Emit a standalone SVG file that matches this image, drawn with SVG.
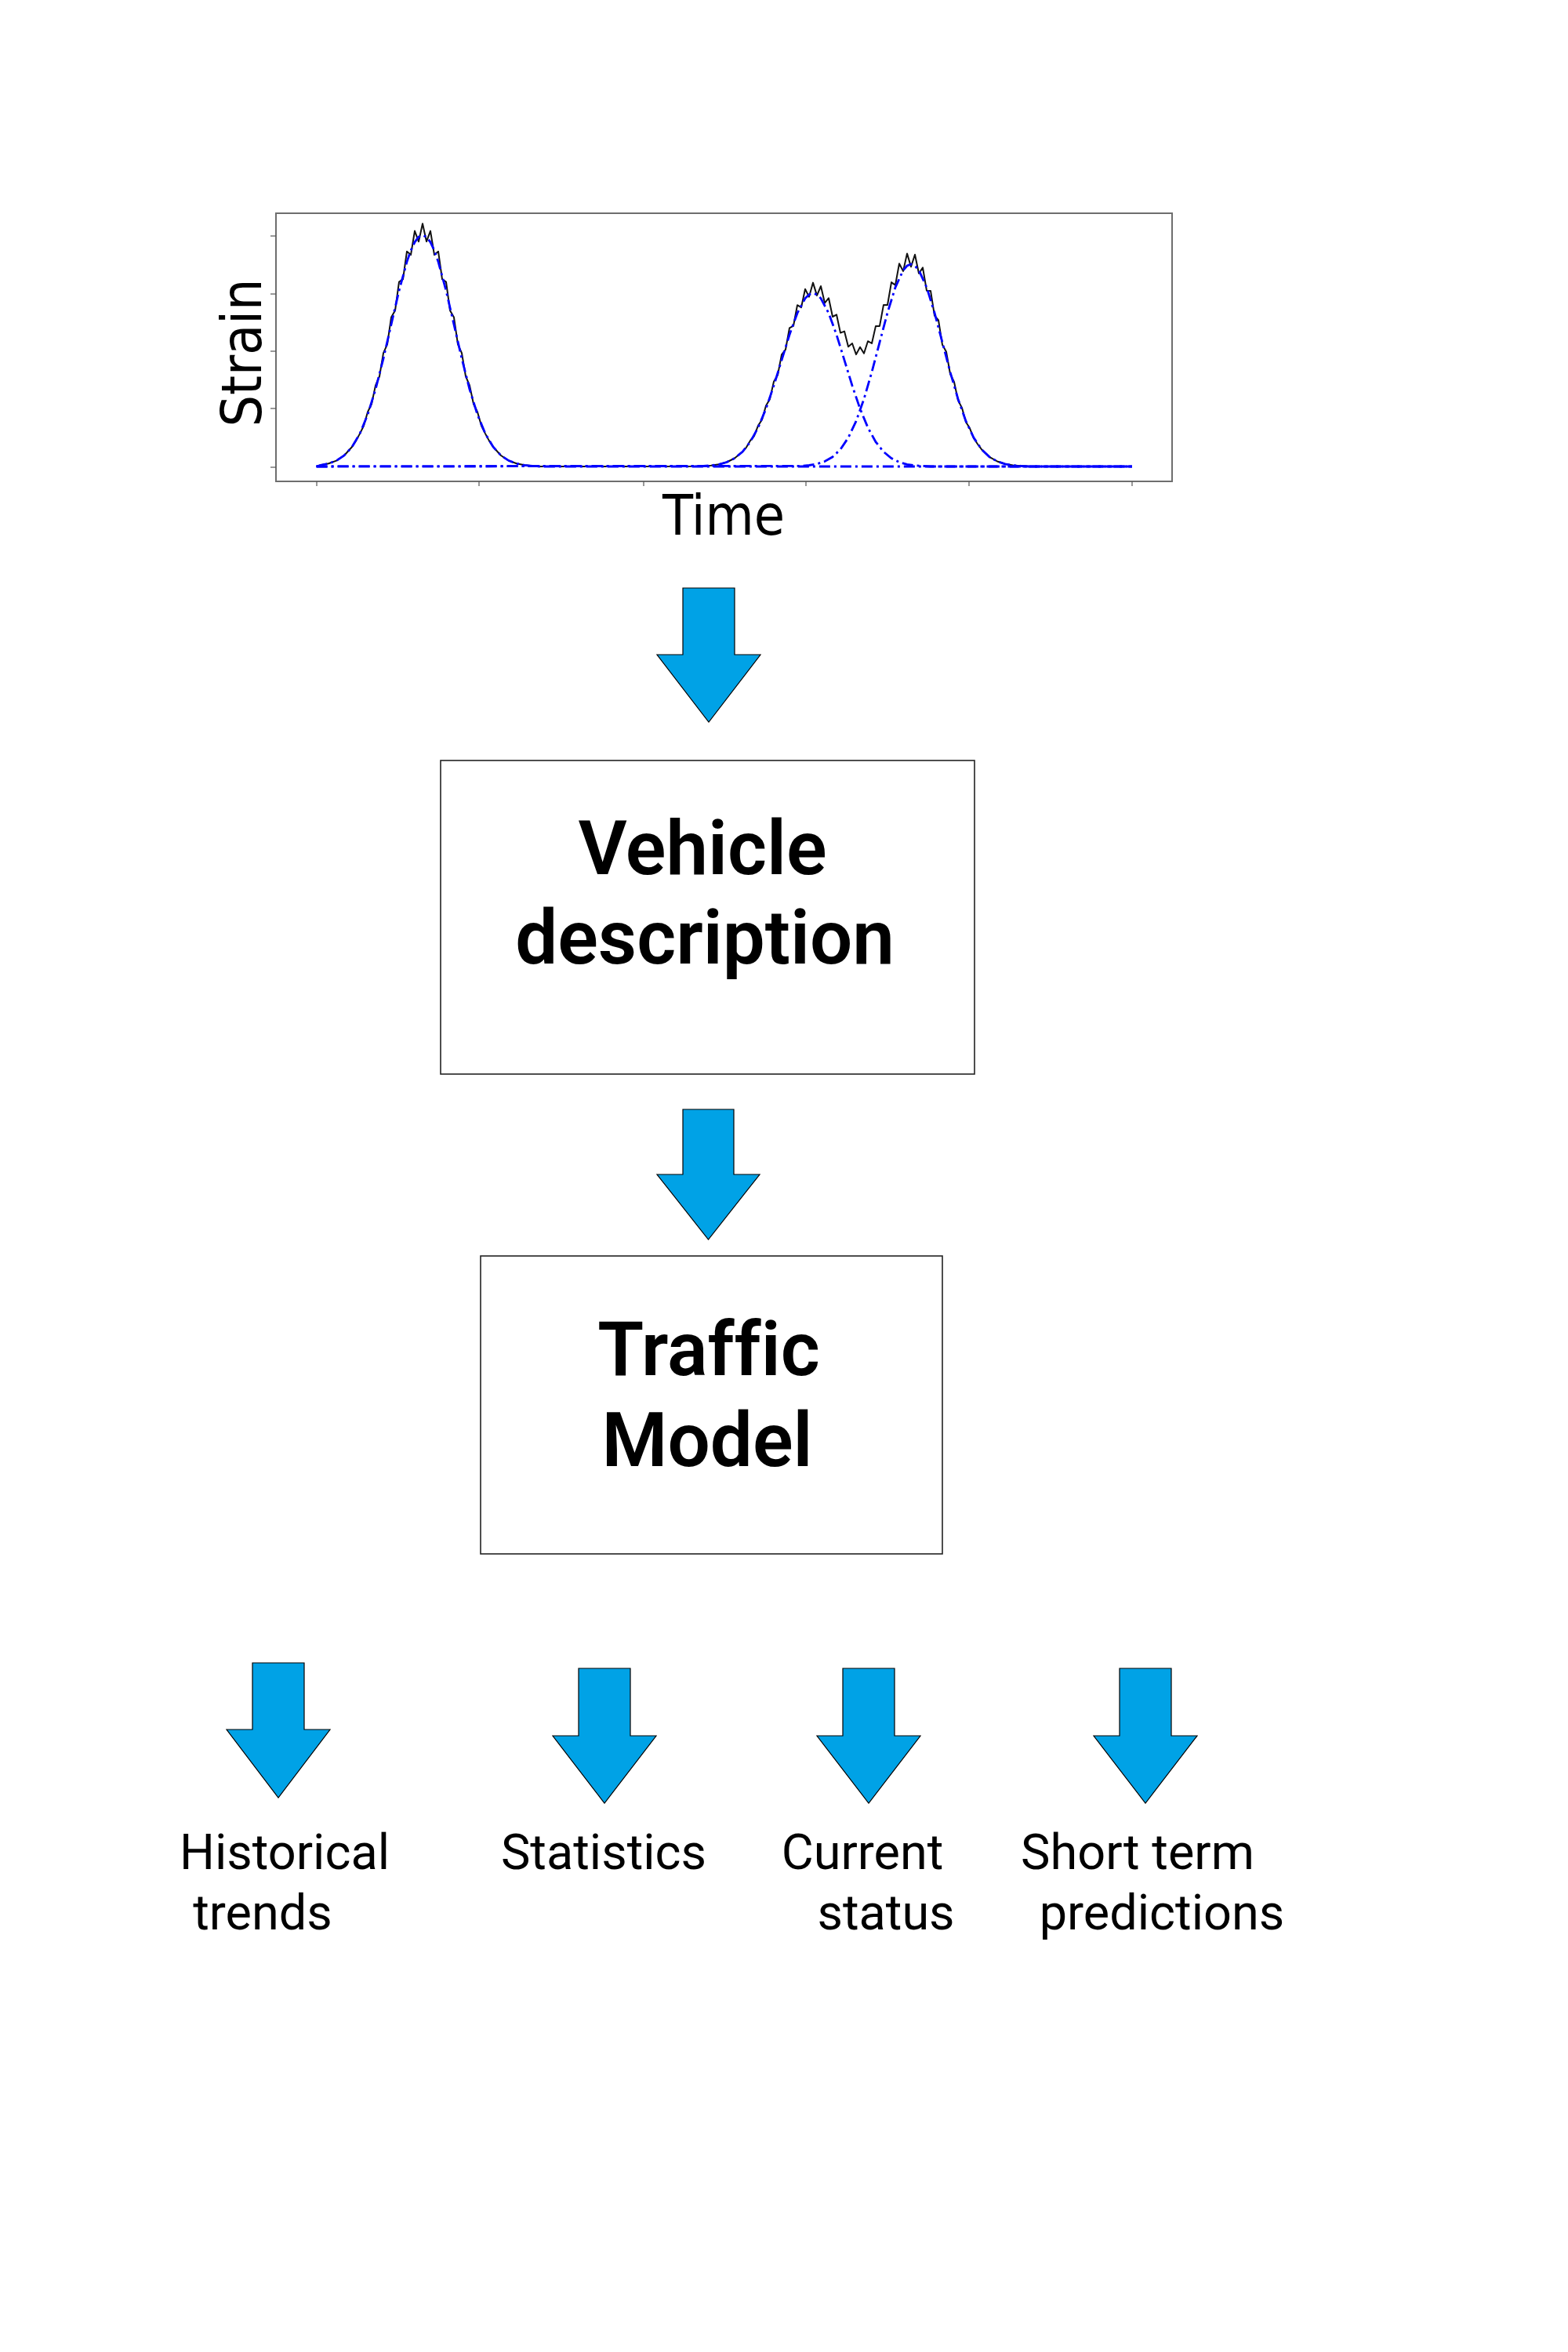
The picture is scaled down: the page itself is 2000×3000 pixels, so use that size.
<svg xmlns="http://www.w3.org/2000/svg" width="2000" height="3000" viewBox="0 0 2000 3000">
<style>
.bg{fill:#ffffff}
.frame{fill:none;stroke:#6e6e6e;stroke-width:2}
.tick{stroke:#555555;stroke-width:1.2}
.sig{fill:none;stroke:#111111;stroke-width:2;stroke-linejoin:round}
.fit{fill:none;stroke:#0000ff;stroke-width:2.8;stroke-dasharray:14 5 3 5}
.axl{font-family:'DejaVu Sans Condensed','DejaVu Sans',sans-serif;font-stretch:condensed;font-size:71px;fill:#000000}
.box{fill:#ffffff;stroke:#222222;stroke-width:1.6}
.big{font-family:Roboto,'Liberation Sans',sans-serif;font-weight:600;font-size:96px;fill:#000000;text-anchor:middle;font-variant-ligatures:none;font-feature-settings:"liga" 0}
.lab{font-family:Roboto,'Liberation Sans',sans-serif;font-size:63px;fill:#000000;text-anchor:middle}
.arrow{fill:#00a2e6;stroke:#000000;stroke-width:1.2;stroke-linejoin:miter}
</style>
<rect class="bg" x="0" y="0" width="2000" height="3000"/>

<g id="strain-plot">
  <rect class="frame" x="352" y="272" width="1143" height="342"/>
  <g class="tick">
    <line x1="345" y1="301" x2="352" y2="301"/>
    <line x1="345" y1="375" x2="352" y2="375"/>
    <line x1="345" y1="448" x2="352" y2="448"/>
    <line x1="345" y1="521" x2="352" y2="521"/>
    <line x1="345" y1="596" x2="352" y2="596"/>
    <line x1="404" y1="614" x2="404" y2="620"/>
    <line x1="611" y1="614" x2="611" y2="620"/>
    <line x1="821" y1="614" x2="821" y2="620"/>
    <line x1="1028" y1="614" x2="1028" y2="620"/>
    <line x1="1236" y1="614" x2="1236" y2="620"/>
    <line x1="1444" y1="614" x2="1444" y2="620"/>
  </g>
  <path class="sig" d="M403.6,595 L409,593.3 L419,591.3 L429,587.6 L439,581 L449,570 L454,562.4 L459,553.1 L464,543 L469,525.5 L474,515.2 L479,491.6 L484,480 L489,450.4 L494,439.1 L499,404.8 L504,396 L509,359.6 L514,356.1 L519,320.7 L524,325.1 L529,294.6 L534,308.1 L539,285.3 L544,308.1 L549,294.6 L554,325.1 L559,320.7 L564,356.1 L569,359.6 L574,396 L579,404.8 L584,439.1 L589,450.4 L594,480 L599,491.6 L604,515.2 L609,525.5 L614,543 L619,553.1 L624,562.4 L629,570 L639,581 L649,587.6 L659,591.3 L669,593.3 L679,594.3 L689,595 L887,594.8 L897,594.4 L907,593.7 L917,592.3 L927,589.5 L937,584.5 L947,576.3 L952,570.6 L957,562 L962,556 L967,542.9 L972,535.2 L977,517.5 L982,508.9 L987,486.7 L992,478.2 L997,452.4 L1002,445.8 L1007,418.4 L1012,415.7 L1017,389.2 L1022,392.1 L1027,368.8 L1032,378.6 L1037,360.6 L1042,376.9 L1047,365 L1052,386.5 L1057,380.2 L1062,404 L1067,401.3 L1072,424.6 L1077,422.6 L1082,442.2 L1087,438 L1092,452.1 L1097,442.7 L1102,450.8 L1107,435.2 L1112,438 L1117,415.9 L1122,415.9 L1127,388.9 L1132,389 L1137,360.1 L1142,363.6 L1147,336.3 L1152,345.9 L1157,323.4 L1162,340.3 L1167,324.8 L1172,348.8 L1177,341.4 L1182,370.8 L1187,370.9 L1192,402.7 L1197,408.5 L1202,439.8 L1207,448.8 L1212,477 L1217,487.3 L1222,510.6 L1227,520.2 L1232,538.3 L1237,546.3 L1242,559 L1247,566.5 L1252,573.2 L1262,582.8 L1272,588.5 L1282,591.8 L1292,593.5 L1302,594.3 L1312,594.7 L1444,595"/>
  <path class="fit" d="M403.6,595 L409,593.3 L419,591.3 L429,587.6 L439,581 L449,570 L459,553.1 L469,528.8 L479,496.6 L489,457.3 L499,413.9 L509,370.8 L519,333.9 L524,319.6 L529,308.8 L534,302.2 L539,300 L544,302.2 L549,308.8 L554,319.6 L559,333.9 L569,370.8 L579,413.9 L589,457.3 L599,496.6 L609,528.8 L619,553.1 L629,570 L639,581 L649,587.6 L659,591.3 L669,593.3 L679,594.3 L689,595 L1444,595"/>
  <path class="fit" d="M403.6,595 L897,594.4 L907,593.7 L917,592.3 L927,589.5 L937,584.5 L947,576.3 L957,563.6 L967,545.4 L977,521.3 L987,491.9 L997,459.3 L1007,427 L1017,399.4 L1027,380.6 L1032,375.7 L1037,374 L1042,375.7 L1047,380.6 L1057,399.4 L1067,427 L1077,459.3 L1087,491.9 L1097,521.3 L1107,545.4 L1117,563.6 L1127,576.3 L1137,584.5 L1147,589.5 L1157,592.3 L1167,593.7 L1177,594.4 L1187,595 L1444,595"/>
  <path class="fit" d="M403.6,595 L1022,594.3 L1032,593.5 L1042,591.8 L1052,588.5 L1062,582.8 L1072,573.2 L1082,558.3 L1092,537.1 L1102,508.9 L1112,474.6 L1122,436.6 L1132,398.9 L1142,366.6 L1152,344.7 L1157,339 L1162,337 L1167,339 L1172,344.7 L1182,366.6 L1192,398.9 L1202,436.6 L1212,474.6 L1222,508.9 L1232,537.1 L1242,558.3 L1252,573.2 L1262,582.8 L1272,588.5 L1282,591.8 L1292,593.5 L1302,594.3 L1312,595 L1444,595"/>
  <text class="axl" x="923" y="682" text-anchor="middle">Time</text>
  <text class="axl" transform="translate(333,450) rotate(-90)" x="0" y="0" text-anchor="middle">Strain</text>
</g>

<g id="vehicle-description">
  <rect class="box" x="562" y="970" width="681" height="400"/>
  <text class="big" x="896" y="1115">Vehicle</text>
  <text class="big" x="899" y="1229">description</text>
</g>

<g id="traffic-model">
  <rect class="box" x="613" y="1602" width="589" height="380"/>
  <text class="big" x="904" y="1754">Traffic</text>
  <text class="big" x="902" y="1870">Model</text>
</g>

<g id="historical-trends">
  <text class="lab" x="363" y="2384">Historical</text>
  <text class="lab" x="335" y="2461">trends</text>
</g>
<g id="statistics">
  <text class="lab" x="770" y="2384">Statistics</text>
</g>
<g id="current-status">
  <text class="lab" x="1100" y="2384">Current</text>
  <text class="lab" x="1130" y="2461">status</text>
</g>
<g id="short-term-predictions">
  <text class="lab" x="1451" y="2384">Short term</text>
  <text class="lab" x="1482" y="2461">predictions</text>
</g>

<g id="connectors">
  <polygon class="arrow" points="871,750 937,750 937,835 970,835 904,921 838,835 871,835"/>
  <polygon class="arrow" points="871,1415 936,1415 936,1498 969,1498 903.5,1581 838,1498 871,1498"/>
  <polygon class="arrow" points="322,2121 388,2121 388,2206 421,2206 355,2293 289,2206 322,2206"/>
  <polygon class="arrow" points="738,2128 804,2128 804,2214 837,2214 771,2300 705,2214 738,2214"/>
  <polygon class="arrow" points="1075,2128 1141,2128 1141,2214 1174,2214 1108,2300 1042,2214 1075,2214"/>
  <polygon class="arrow" points="1428,2128 1494,2128 1494,2214 1527,2214 1461,2300 1395,2214 1428,2214"/>
</g>
</svg>
